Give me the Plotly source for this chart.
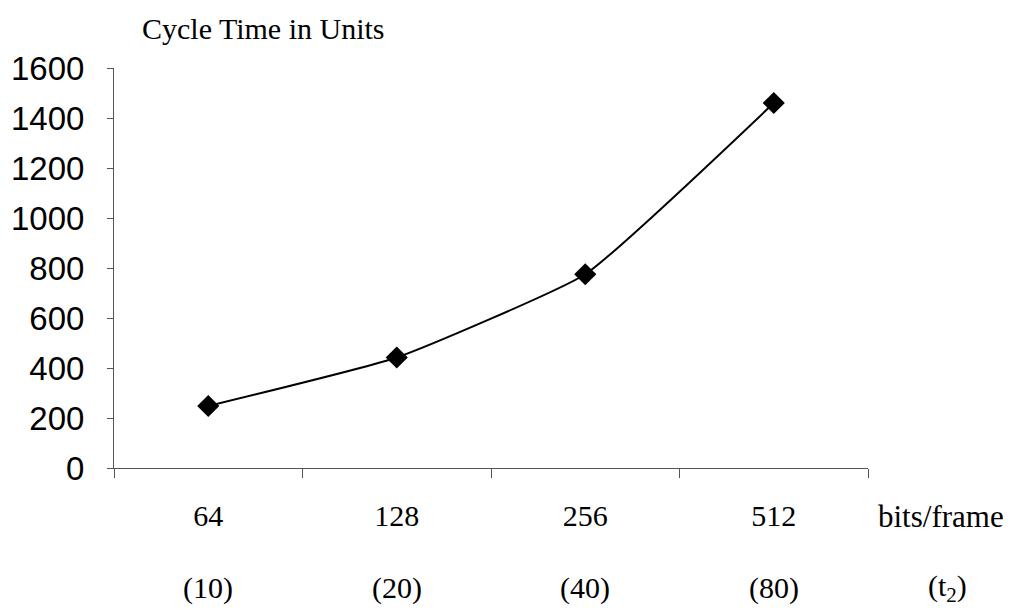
import plotly.graph_objects as go

# data
bits_per_frame = ["64", "128", "256", "512"]
t2_values = ["(10)", "(20)", "(40)", "(80)"]
cycle_time = [248, 442, 775, 1460]
y_ticks = [0, 200, 400, 600, 800, 1000, 1200, 1400, 1600]

serif = "Liberation Serif, Times New Roman, serif"
sans = "Liberation Sans, Arial, sans-serif"

fig = go.Figure(go.Scatter(
    x=bits_per_frame,
    y=cycle_time,
    mode="lines+markers",
    line=dict(color="black", width=2, shape="spline", smoothing=0.4),
    marker=dict(symbol="diamond", size=17, color="black"),
    showlegend=False,
))

# second row of category labels: t2 values under each bits/frame label
# (category axis: annotation x is the category index)
notes = [
    dict(text=t, x=i, xref="x", yref="paper", y=0, yshift=-120,
         xanchor="center", yanchor="middle", showarrow=False,
         font=dict(family=serif, size=30, color="black"))
    for i, t in enumerate(t2_values)
]
notes += [
    dict(text="Cycle Time in Units", xref="paper", yref="paper",
         x=0.035, y=1.0, yshift=40, xanchor="left", yanchor="middle",
         showarrow=False, font=dict(family=serif, size=30, color="black")),
    dict(text="bits/frame", xref="paper", yref="paper",
         x=1.0, y=0, yshift=-48, xshift=8, xanchor="left", yanchor="middle",
         showarrow=False, font=dict(family=serif, size=31, color="black")),
    dict(text="(t<sub>2</sub>)", xref="paper", yref="paper",
         x=1.0, y=0, yshift=-120, xshift=58, xanchor="left", yanchor="middle",
         showarrow=False, font=dict(family=serif, size=30, color="black")),
]

fig.update_layout(
    width=1013, height=610,
    margin=dict(l=106, r=153, t=60, b=150),
    paper_bgcolor="white", plot_bgcolor="white",
    xaxis=dict(
        type="category",
        categoryorder="array", categoryarray=bits_per_frame,
        range=[-0.5, len(bits_per_frame) - 0.5],
        tickson="boundaries",
        ticks="outside", ticklen=9, tickcolor="#555",
        showline=True, linecolor="#555", linewidth=1,
        showgrid=False, zeroline=False,
        tickfont=dict(family=serif, size=30, color="black"),
        tickangle=0,
        ticklabelstandoff=21,
        automargin=False,
    ),
    yaxis=dict(
        range=[0, 1600],
        tickvals=y_ticks,
        ticks="outside", ticklen=6, tickcolor="#555",
        showline=True, linecolor="#555", linewidth=1,
        showgrid=False, zeroline=False,
        tickfont=dict(family=sans, size=33, color="black"),
        ticklabelstandoff=16,
        automargin=False,
    ),
    annotations=notes,
)

fig.write_html("out.html")
